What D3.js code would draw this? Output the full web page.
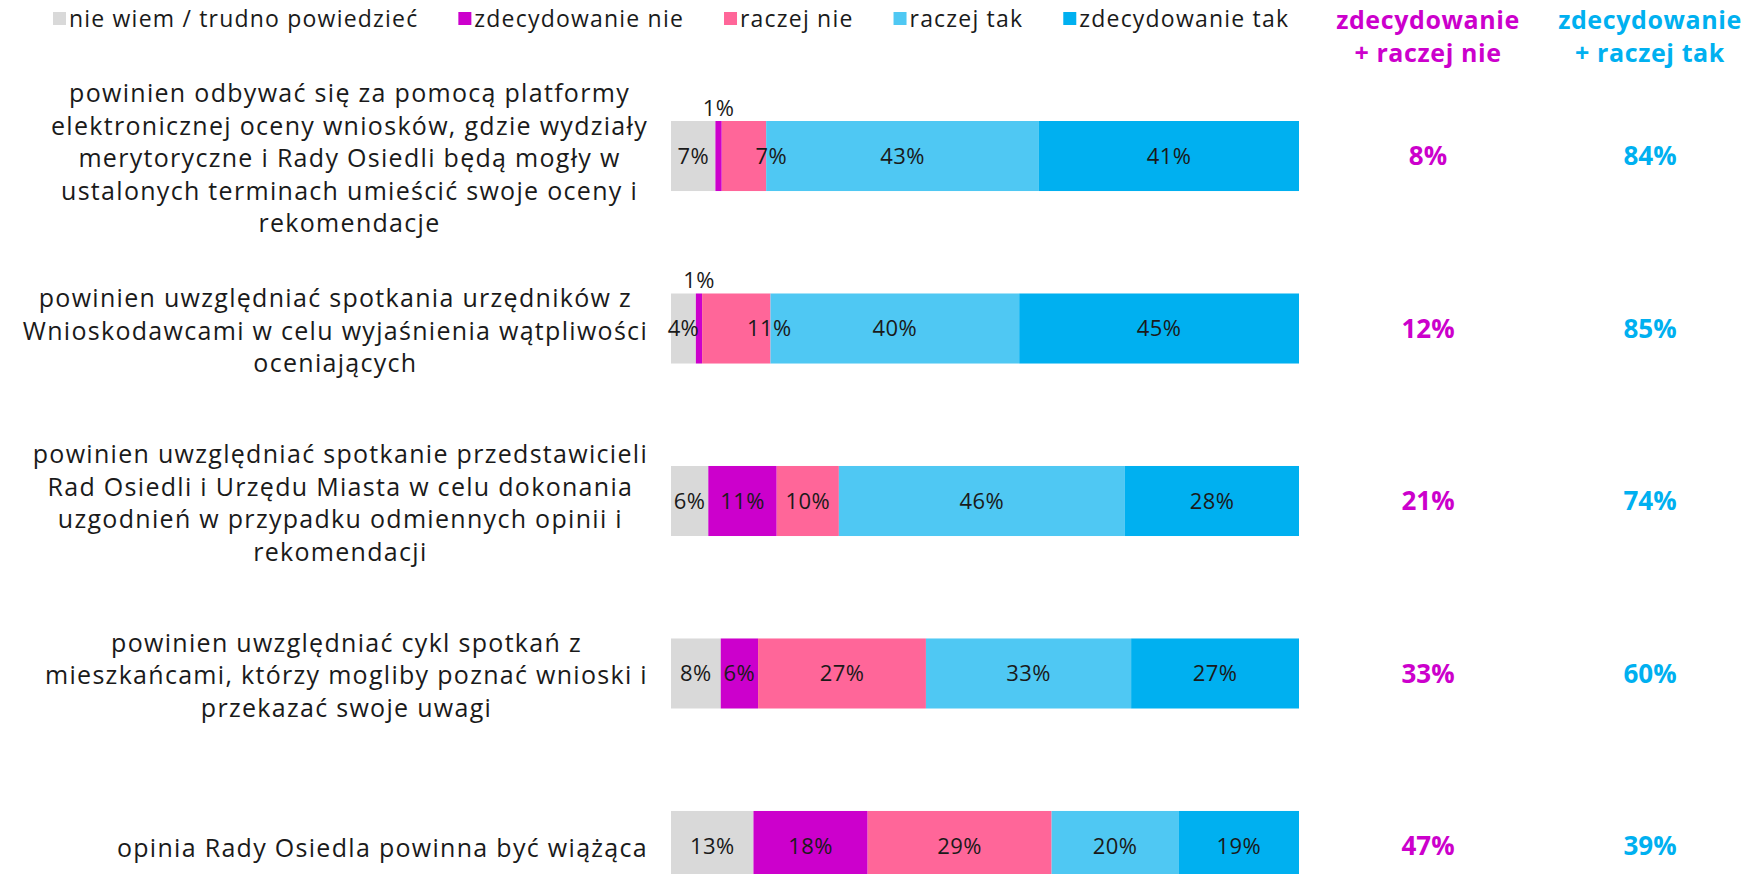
<!DOCTYPE html>
<html><head><meta charset="utf-8">
<script src="https://cdn.jsdelivr.net/npm/d3@7"></script>
<style>
html,body{margin:0;padding:0;background:#fff;}
svg{display:block;font-family:"Open Sans",sans-serif;}
</style></head>
<body>
<svg id="chart" width="1756" height="874"></svg>
<script>
// ---- data ----
const categories = [
  ["powinien odbywać się za pomocą platformy","elektronicznej oceny wniosków, gdzie wydziały","merytoryczne i Rady Osiedli będą mogły w","ustalonych terminach umieścić swoje oceny i","rekomendacje"],
  ["powinien uwzględniać spotkania urzędników z","Wnioskodawcami w celu wyjaśnienia wątpliwości","oceniających"],
  ["powinien uwzględniać spotkanie przedstawicieli","Rad Osiedli i Urzędu Miasta w celu dokonania","uzgodnień w przypadku odmiennych opinii i","rekomendacji"],
  ["powinien uwzględniać cykl spotkań z","mieszkańcami, którzy mogliby poznać wnioski i","przekazać swoje uwagi"],
  ["opinia Rady Osiedla powinna być wiążąca"]
];
const seriesNames = ["nie wiem / trudno powiedzieć","zdecydowanie nie","raczej nie","raczej tak","zdecydowanie tak"];
const nieWiem         = [7, 4, 6, 8, 13];
const zdecydowanieNie = [1, 1, 11, 6, 18];
const raczejNie       = [7, 11, 10, 27, 29];
const raczejTak       = [43, 40, 46, 33, 20];
const zdecydowanieTak = [41, 45, 28, 27, 19];
const seriesColors = ["#D9D9D9","#CC00CC","#FF6699","#4FC8F3","#00B0F0"];
const sumHeaders = [["zdecydowanie","+ raczej nie"],["zdecydowanie","+ raczej tak"]];
const sumColors = ["#CC00CC","#00B0F0"];

// ---- build table ----
const seriesArrays = [nieWiem, zdecydowanieNie, raczejNie, raczejTak, zdecydowanieTak];
const rows = categories.map((c,i)=>{
  const r = {idx:i};
  seriesNames.forEach((s,j)=> r[s] = seriesArrays[j][i]);
  return r;
});
const stack = d3.stack().keys(seriesNames).offset(d3.stackOffsetExpand);
const layers = stack(rows);

const svg = d3.select("#chart");
const x = d3.scaleLinear().domain([0,1]).range([671, 1299]);
const y = d3.scaleBand().domain(d3.range(categories.length))
  .range([121, 121 + 4*172.5 + 70]).paddingInner(0.594).paddingOuter(0);

const textColor = "#1a1a1a";
const valFont = 22;

// bars
const g = svg.append("g");
layers.forEach((layer, j)=>{
  g.append("g").selectAll("rect").data(layer).join("rect")
    .attr("x", d=>x(d[0]))
    .attr("y", (d,i)=>y(i))
    .attr("width", d=>x(d[1])-x(d[0]))
    .attr("height", y.bandwidth())
    .attr("fill", seriesColors[j]);
});

// labels
layers.forEach((layer, j)=>{
  layer.forEach((d,i)=>{
    const v = seriesArrays[j][i];
    const x0 = x(d[0]), x1 = x(d[1]);
    let tx = (x0+x1)/2, ty = y(i)+y.bandwidth()/2, anchor="middle";
    if (v < 2) { ty = y(i) - 13; }
    else if (j>0 && seriesArrays[j-1][i] < 2) { tx = x1 + 21; anchor = "end"; }
    svg.append("text")
      .attr("x", tx).attr("y", ty).attr("dy","0.36em")
      .attr("text-anchor", anchor)
      .attr("font-size", valFont).attr("letter-spacing", 0.4).attr("fill", textColor)
      .text(v + "%");
  });
});

// category labels
const lineH = 32.5, rightEdge = 648, catFont = 25;
categories.forEach((lines,i)=>{
  const cy = y(i) + y.bandwidth()/2 + 2;
  const grp = svg.append("g");
  const ts = lines.map((ln,k)=> grp.append("text")
    .attr("y", cy + (k - (lines.length-1)/2)*lineH).attr("dy","0.36em")
    .attr("text-anchor","middle").attr("font-size",catFont).attr("letter-spacing",1.3)
    .attr("fill",textColor).text(ln));
  const maxW = d3.max(ts, t=>t.node().getComputedTextLength());
  ts.forEach(t=>t.attr("x", rightEdge - maxW/2));
});

// legend
let lx = 53;
seriesNames.forEach((s,j)=>{
  svg.append("rect").attr("x",lx).attr("y",12).attr("width",13).attr("height",13).attr("fill",seriesColors[j]);
  const t = svg.append("text").attr("x",lx+16).attr("y",19).attr("dy","0.36em")
    .attr("font-size",23).attr("letter-spacing",1.2).attr("fill",textColor).text(s);
  lx += 16 + t.node().getComputedTextLength() + 40;
});

// sum columns
const sumX = [1428, 1650];
const sums = [
  rows.map((r,i)=> zdecydowanieNie[i] + raczejNie[i]),
  rows.map((r,i)=> raczejTak[i] + zdecydowanieTak[i])
];
sumHeaders.forEach((h,c)=>{
  h.forEach((ln,k)=> svg.append("text").attr("x",sumX[c]).attr("y",20 + k*33).attr("dy","0.36em")
    .attr("text-anchor","middle").attr("font-size",25).attr("letter-spacing",0.6).attr("font-weight","bold").attr("fill",sumColors[c]).text(ln));
  sums[c].forEach((v,i)=> svg.append("text").attr("x",sumX[c]).attr("y", y(i)+y.bandwidth()/2).attr("dy","0.36em")
    .attr("text-anchor","middle").attr("font-size",26).attr("font-weight","bold").attr("fill",sumColors[c]).text(v+"%"));
});
</script>
</body></html>
